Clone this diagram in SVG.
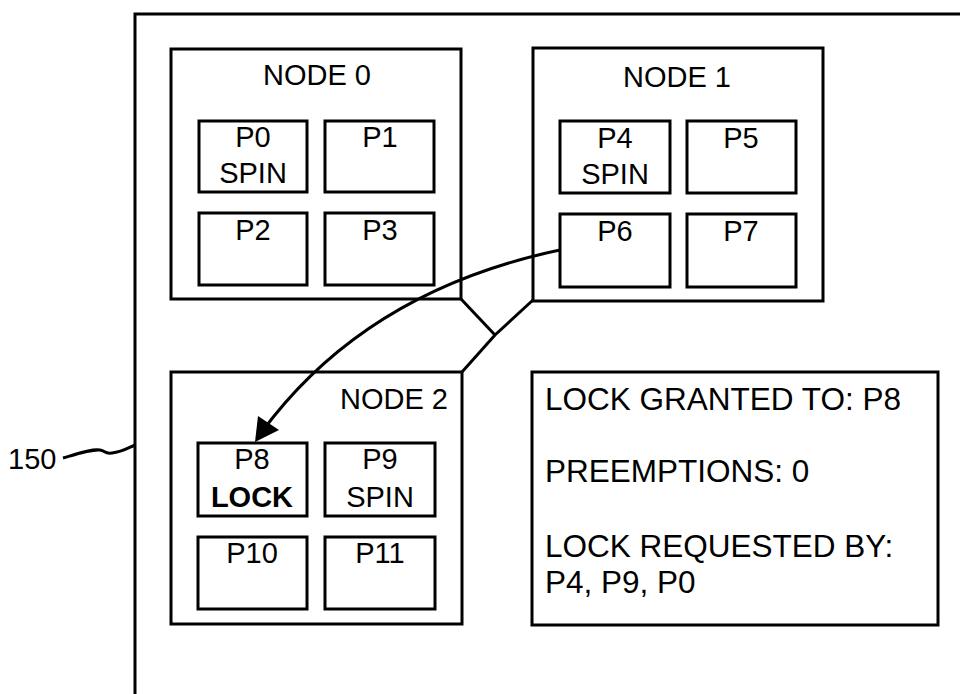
<svg xmlns="http://www.w3.org/2000/svg" width="960" height="694" viewBox="0 0 960 694">
<style>
.box{fill:none;stroke:#000;stroke-width:3}
.pbox{fill:none;stroke:#000;stroke-width:3}
.t{font-family:"Liberation Sans",Arial,sans-serif;font-size:29px;fill:#000}
.c{text-anchor:middle}
.b{font-weight:bold}
.ln{fill:none;stroke:#000;stroke-width:3}
.info{font-size:31.5px}
</style>
<rect width="960" height="694" fill="#fff"/>
<g id="system">
<path class="box" d="M135,694 V14 H960"/>
</g>
<g id="label150">
<text class="t" x="8" y="469" font-size="28">150</text>
<path class="ln" stroke-width="2" d="M63,458 C80,453 92,449 100,450 C106,451 104,454 112,453 C122,452 128,448 135,445"/>
</g>
<g id="node0">
<rect class="box" x="171" y="49" width="290" height="250"/>
<text class="t c" x="317" y="85" font-size="30">NODE 0</text>
<rect class="pbox" x="199" y="121" width="108" height="71"/>
<text class="t c" x="253" y="147">P0</text>
<text class="t c" x="253" y="183">SPIN</text>
<rect class="pbox" x="325" y="121" width="109" height="71"/>
<text class="t c" x="380" y="147">P1</text>
<rect class="pbox" x="199" y="213" width="108" height="72"/>
<text class="t c" x="253" y="240">P2</text>
<rect class="pbox" x="325" y="213" width="109" height="72"/>
<text class="t c" x="380" y="240">P3</text>
</g>
<g id="node1">
<rect class="box" x="533" y="48" width="290" height="253"/>
<text class="t c" x="677" y="87" font-size="30">NODE 1</text>
<rect class="pbox" x="560" y="121" width="110" height="72"/>
<text class="t c" x="615" y="148">P4</text>
<text class="t c" x="615" y="184">SPIN</text>
<rect class="pbox" x="687" y="121" width="109" height="72"/>
<text class="t c" x="741" y="148">P5</text>
<rect class="pbox" x="560" y="214" width="110" height="73"/>
<text class="t c" x="615" y="241">P6</text>
<rect class="pbox" x="687" y="214" width="109" height="73"/>
<text class="t c" x="741" y="241">P7</text>
</g>
<g id="node2">
<rect class="box" x="171" y="372" width="291" height="252"/>
<text class="t" x="448" y="409" font-size="30" text-anchor="end">NODE 2</text>
<rect class="pbox" x="198" y="443" width="109" height="73"/>
<text class="t c" x="252" y="469">P8</text>
<text class="t c b" x="252" y="507">LOCK</text>
<rect class="pbox" x="325" y="443" width="110" height="73"/>
<text class="t c" x="380" y="469">P9</text>
<text class="t c" x="380" y="507">SPIN</text>
<rect class="pbox" x="198" y="537" width="109" height="72"/>
<text class="t c" x="252" y="563">P10</text>
<rect class="pbox" x="325" y="537" width="110" height="72"/>
<text class="t c" x="380" y="563">P11</text>
</g>
<g id="lockinfo">
<rect class="box" x="532" y="372" width="406" height="253"/>
<text class="t info" x="545" y="410">LOCK GRANTED TO: P8</text>
<text class="t info" x="545" y="482">PREEMPTIONS: 0</text>
<text class="t info" x="545" y="557">LOCK REQUESTED BY:</text>
<text class="t info" x="545" y="593">P4, P9, P0</text>
</g>
<g id="connectors">
<path class="ln" d="M461,299 L495,335"/>
<path class="ln" d="M533,300 L495,335 L462,372"/>
<path class="ln" stroke-width="2.5" d="M560,250 Q365,291 261,433"/>
<path d="M255,442 L258,416 L279,430 z" fill="#000"/>
</g>
</svg>
